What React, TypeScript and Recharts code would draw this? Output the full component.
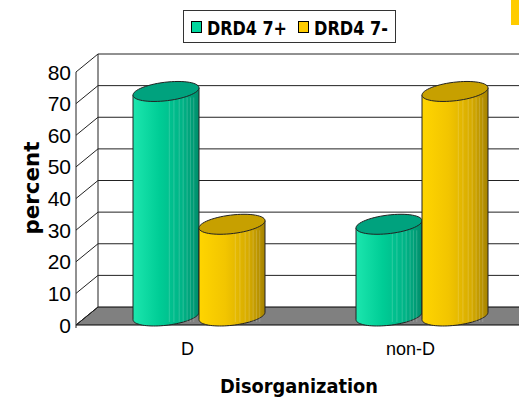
import { BarChart, Bar, XAxis, YAxis } from 'recharts';

const categories = ['D', 'non-D'];
const drd4Plus = [71, 29];
const drd4Minus = [29, 71];
const seriesNames = ['DRD4 7+', 'DRD4 7-'];
const yTicks = [0, 10, 20, 30, 40, 50, 60, 70, 80];

const data = categories.map((name, i) => ({ name, plus: drd4Plus[i], minus: drd4Minus[i] }));

const W = 560;
const H = 398;
const M = { top: 63, right: 27, bottom: 52, left: 87 };
const PLOT_H = H - M.top - M.bottom - 30; // x axis height 30
const Y_MAX = 80;
// oblique depth: half depth shift
const DX = 11;
const DY = 9;

const midY = (v: number) => M.top + (1 - v / Y_MAX) * PLOT_H;

const GREEN = { stops: ['#1ce6ae', '#00cd96', '#00b386', '#008e6b'], top: '#00a27e' };
const YELLOW = { stops: ['#ffd500', '#f2c500', '#d6ab00', '#a68300'], top: '#c7a000' };
const LEGEND_COLORS = ['#00d79e', '#ffcc00'];

const EA = 12;
const EB = 10;

function pt(cx: number, cy: number, r: number, t: number) {
  return [cx + r * Math.cos(t) + EA * Math.sin(t), cy - EB * Math.sin(t)];
}

function Cylinder(props: any) {
  const { x, y, width, height, index, pal, sid } = props;
  if (width == null || height == null) return null;
  const half = width / 2;
  const r = Math.sqrt(Math.max(half * half - EA * EA, 1));
  const cx = x + half;
  const topY = y;
  const botY = y + height;
  const t0 = Math.atan2(EA, r);
  const id = `g-${sid}-${index}`;
  const body: string[] = [];
  const tl = pt(cx, topY, r, t0 + Math.PI);
  const bl = pt(cx, botY, r, t0 + Math.PI);
  body.push(`M${tl[0]},${tl[1]}`, `L${bl[0]},${bl[1]}`);
  for (let i = 1; i <= 40; i++) {
    const t = t0 + Math.PI + (Math.PI * i) / 40;
    const p = pt(cx, botY, r, t);
    body.push(`L${p[0]},${p[1]}`);
  }
  const tr = pt(cx, topY, r, t0);
  body.push(`L${tr[0]},${tr[1]}`, 'Z');
  const top: string[] = [];
  for (let i = 0; i <= 60; i++) {
    const p = pt(cx, topY, r, (2 * Math.PI * i) / 60);
    top.push(`${i === 0 ? 'M' : 'L'}${p[0]},${p[1]}`);
  }
  top.push('Z');
  const stripes = [0.55, 0.62, 0.7, 0.76, 0.82, 0.87, 0.92];
  const lx = tl[0];
  const rx = tr[0];
  return (
    <g>
      <defs>
        <linearGradient id={id} x1="0" y1="0" x2="1" y2="0">
          <stop offset="0%" stopColor={pal.stops[0]} />
          <stop offset="40%" stopColor={pal.stops[1]} />
          <stop offset="75%" stopColor={pal.stops[2]} />
          <stop offset="100%" stopColor={pal.stops[3]} />
        </linearGradient>
      </defs>
      <path d={body.join(' ')} fill={`url(#${id})`} stroke="#222" strokeWidth={1} />
      {stripes.map((f) => (
        <line
          key={f}
          x1={lx + (rx - lx) * f}
          x2={lx + (rx - lx) * f}
          y1={topY + 6}
          y2={botY + 6}
          stroke="#ffffff"
          strokeOpacity={0.18}
          strokeWidth={1}
        />
      ))}
      <path d={top.join(' ')} fill={pal.top} stroke="#222" strokeWidth={1} />
    </g>
  );
}

function XTick(props: any) {
  const { x, payload } = props;
  return (
    <text x={x - DX} y={355} textAnchor="middle" fontFamily="'Liberation Sans', Arial, sans-serif" fontSize={18} fill="#000">
      {payload.value}
    </text>
  );
}

function Background() {
  const backX = M.left + DX;
  const frontX = M.left - DX;
  return (
    <svg width={W} height={H} style={{ position: 'absolute', left: 0, top: 0 }}>
      {/* floor */}
      <polygon
        points={`${frontX},${midY(0) + DY} ${backX},${midY(0) - DY} ${W + 40},${midY(0) - DY} ${W + 18},${midY(0) + DY}`}
        fill="#808080"
        stroke="#000"
        strokeWidth={1}
      />
      {yTicks.map((v) => (
        <g key={v}>
          {v > 0 && <line x1={backX} x2={W} y1={midY(v) - DY} y2={midY(v) - DY} stroke="#222" strokeWidth={1} />}
          <line x1={frontX} y1={midY(v) + DY} x2={backX} y2={midY(v) - DY} stroke="#222" strokeWidth={1} />
          <text
            x={71}
            y={midY(v) + DY + 7.5}
            textAnchor="end"
            fontFamily="'Liberation Sans', Arial, sans-serif"
            fontSize={21}
            fill="#000"
          >
            {v}
          </text>
        </g>
      ))}
      <line x1={backX} x2={backX} y1={midY(Y_MAX) - DY} y2={midY(0) - DY} stroke="#222" strokeWidth={1} />
      <line x1={frontX} x2={frontX} y1={midY(Y_MAX) + DY} y2={midY(0) + DY + 3} stroke="#222" strokeWidth={1} />
      <text
        transform="translate(39,188) rotate(-90)"
        textAnchor="middle"
        fontFamily="'DejaVu Sans', sans-serif"
        fontWeight="bold"
        fontSize={21}
        textLength={93}
        lengthAdjust="spacingAndGlyphs"
        fill="#000"
      >
        percent
      </text>
      <text
        x={220}
        y={393}
        fontFamily="'DejaVu Sans', sans-serif"
        fontWeight="bold"
        fontSize={20}
        textLength={158}
        lengthAdjust="spacingAndGlyphs"
        fill="#000"
      >
        Disorganization
      </text>
      <rect x={511} y={0} width={10} height={25} fill="#ffcc00" />
    </svg>
  );
}

function LegendBox() {
  const items = [
    { sq: 191, tx: 207, len: 80 },
    { sq: 298, tx: 314, len: 74 },
  ];
  return (
    <svg width={W} height={60} style={{ position: 'absolute', left: 0, top: 0 }}>
      <rect x={183.5} y={10.5} width={212} height={32} fill="#fff" stroke="#333" strokeWidth={1} />
      {items.map((it, i) => (
        <g key={i}>
          <rect x={it.sq + 0.5} y={21.5} width={10} height={11} fill={LEGEND_COLORS[i]} stroke="#000" strokeWidth={1} />
          <text
            x={it.tx}
            y={35}
            fontFamily="'DejaVu Sans', sans-serif"
            fontWeight="bold"
            fontSize={20}
            textLength={it.len}
            lengthAdjust="spacingAndGlyphs"
            fill="#000"
          >
            {seriesNames[i]}
          </text>
        </g>
      ))}
    </svg>
  );
}

export default function App() {
  return (
    <div style={{ position: 'absolute', left: 0, top: 0, width: 519, height: 398, overflow: 'hidden', background: '#fff' }}>
      <Background />
      <div style={{ position: 'absolute', left: 0, top: 0 }}>
        <BarChart width={W} height={H} data={data} margin={M} barGap={0}>
          <XAxis dataKey="name" height={30} axisLine={false} tickLine={false} tick={<XTick />} interval={0} />
          <YAxis hide width={0} domain={[0, Y_MAX]} ticks={yTicks} />
          <Bar
            dataKey="plus"
            name={seriesNames[0]}
            barSize={66}
            isAnimationActive={false}
            shape={(p: any) => <Cylinder {...p} pal={GREEN} sid="a" />}
          />
          <Bar
            dataKey="minus"
            name={seriesNames[1]}
            barSize={66}
            isAnimationActive={false}
            shape={(p: any) => <Cylinder {...p} pal={YELLOW} sid="b" />}
          />
        </BarChart>
      </div>
      <LegendBox />
    </div>
  );
}
